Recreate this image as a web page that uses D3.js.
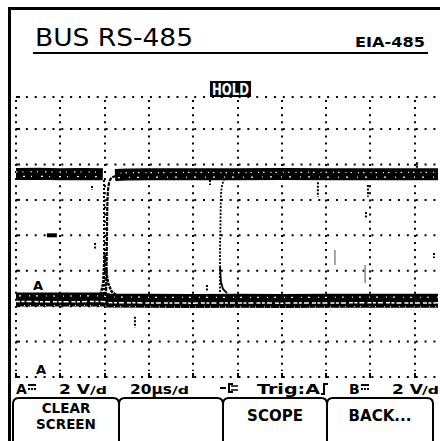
<!DOCTYPE html>
<html><head><meta charset="utf-8">
<script src="https://cdn.jsdelivr.net/npm/d3@7"></script>
<style>html,body{margin:0;padding:0;background:#fff;}svg{display:block}</style>
</head><body><svg id="c" width="440" height="441"></svg>
<script>
// ---------------- data ----------------
const timeGrid = [0, 20, 40, 60, 80, 100, 120, 140, 160, 180];   // µs (20 µs/div)
const voltGrid = [-8, -6, -4, -2, 0, 2, 4, 6];                   // V (2 V/div)

// upper trace (steady high level) before and after the edge
const upperLeftT  = [0, 10, 20, 30, 39.2];
const upperLeftV  = [3.46, 3.47, 3.45, 3.46, 3.44];
const upperRightT = [44.7, 50, 60, 80, 100, 120, 140, 160, 180, 200];
const upperRightV = [3.40, 3.43, 3.44, 3.45, 3.44, 3.46, 3.45, 3.44, 3.45, 3.45];

// lower trace (steady low level)
const lowerT = [0, 20, 39, 42, 60, 80, 100, 120, 140, 160, 180, 200];
const lowerV = [-3.62, -3.63, -3.62, -3.68, -3.70, -3.71, -3.70, -3.71, -3.70, -3.69, -3.70, -3.69];

// first edge (persistence) ~40 µs
const edge1FallT = [39.73, 39.73];
const edge1FallV = [3.12, -3.26];
const edge1RiseT = [40.63, 40.86, 41.08, 41.31, 41.76, 42.44, 43.79, 46.05];
const edge1RiseV = [-3.43, -1.96, 0.30, 1.99, 2.78, 3.12, 3.29, 3.40];
const edge1SettleT = [38.2, 39.4, 40.0, 40.6, 41.6, 43.0, 45.0];
const edge1SettleV = [-3.35, -2.7, -1.0, -1.9, -2.7, -3.15, -3.35];

// second edge ~92 µs
const edge2RiseT = [92.11, 92.11, 92.33, 92.55, 93.23, 94.36, 96.16];
const edge2RiseV = [-3.20, -1.40, 0.86, 2.28, 2.90, 3.24, 3.35];
const edge2FallT = [92.11, 92.55, 93.45, 95.26];
const edge2FallV = [-1.79, -2.64, -3.03, -3.26];

// isolated glitches (short vertical spots)
const glitchT  = [34.3, 35.7, 53.7, 86.2, 87.6, 136.3, 158.9, 158.0, 181.0, 188.7];
const glitchV1 = [2.78, -0.43, -4.60, -2.81, 3.12, 2.99, 2.84, 1.32, 4.13, -1.00];
const glitchV2 = [2.56, -0.83, -5.20, -3.20, 2.84, 2.17, 2.17, 0.98, 3.80, -1.28];
const greyT  = [144.0, 157.6];
const greyV1 = [-0.83, -1.68];
const greyV2 = [-1.68, -2.69];

const markerB = {t: 16.2, v: 0};

const statusTexts = ["2 V", "20µs", "Trig:A", "2 V"];
const softKeys = [["CLEAR", "SCREEN"], [], ["SCOPE"], ["BACK..."]];

// ---------------- drawing ----------------
const svg = d3.select("#c");
const x = d3.scaleLinear().domain([0, 200]).range([16, 16 + 10 * 44.3]);
const y = d3.scaleLinear().domain([-8, 8]).range([377, 93.6]);
const plotTop = 97, plotRight = 438;
const FONT = "'DejaVu Sans', 'Liberation Sans', sans-serif";
const FONTC = "'DejaVu Sans Condensed', 'Liberation Sans Narrow', 'DejaVu Sans', sans-serif";

svg.append("rect").attr("width", 440).attr("height", 441).attr("fill", "#fff");

// outer frame (left + top)
svg.append("path").attr("d", "M9.5,441 V8.5 H440").attr("fill", "none")
  .attr("stroke", "#000").attr("stroke-width", 3);

// title
svg.append("text").attr("x", 35).attr("y", 46).attr("font-family", FONTC)
  .attr("font-size", 25).attr("textLength", 158).attr("lengthAdjust", "spacingAndGlyphs")
  .text("BUS RS-485");
svg.append("text").attr("x", 355).attr("y", 47).attr("font-family", FONT)
  .attr("font-weight", "bold").attr("font-size", 14.5).attr("textLength", 70)
  .attr("lengthAdjust", "spacingAndGlyphs").text("EIA-485");
svg.append("line").attr("x1", 33).attr("x2", 428).attr("y1", 53).attr("y2", 53)
  .attr("stroke", "#000").attr("stroke-width", 2);

// grid
const g = svg.append("g");
const gridBottom = y(-8);
const hLines = voltGrid.map(v => Math.max(y(v), plotTop)).concat([plotTop]);
hLines.forEach(yy => {
  g.append("line").attr("x1", 21).attr("x2", plotRight).attr("y1", yy).attr("y2", yy)
    .attr("stroke", "#000").attr("stroke-width", 2).attr("stroke-dasharray", "2,6.86")
    .attr("stroke-dashoffset", -4.86);
  g.append("line").attr("x1", 16).attr("x2", 20).attr("y1", yy).attr("y2", yy)
    .attr("stroke", "#000").attr("stroke-width", 2);
});
timeGrid.forEach(t => {
  const xx = Math.round(x(t));
  g.append("line").attr("x1", xx).attr("x2", xx).attr("y1", plotTop + 3).attr("y2", gridBottom - 6)
    .attr("stroke", "#000").attr("stroke-width", 2).attr("stroke-dasharray", "2,5.1");
  g.append("line").attr("x1", xx).attr("x2", xx).attr("y1", gridBottom - 4).attr("y2", gridBottom + 1)
    .attr("stroke", "#000").attr("stroke-width", 2);
});

// traces
svg.append("clipPath").attr("id", "plot").append("rect")
  .attr("x", 16).attr("y", plotTop - 2).attr("width", plotRight - 16).attr("height", gridBottom - plotTop + 4);
const tr = svg.append("g").attr("clip-path", "url(#plot)");
const line = d3.line().x(d => x(d[0])).y(d => y(d[1]));
const curve = d3.line().x(d => x(d[0])).y(d => y(d[1])).curve(d3.curveMonotoneY);
const zip = (a, b) => a.map((v, i) => [v, b[i]]);

function band(T, V, w) {
  tr.append("path").attr("d", line(zip(T, V))).attr("fill", "none")
    .attr("stroke", "#000").attr("stroke-width", w).attr("stroke-linecap", "butt");
}
band(upperLeftT, upperLeftV, 12);
band(upperRightT, upperRightV, 12);
band(lowerT, lowerV, 14);

function speck(T, V, dv, dash, off, w) {
  tr.append("path").attr("d", line(zip(T, V.map(v => v + dv)))).attr("fill", "none")
    .attr("stroke", "#fff").attr("stroke-width", w).attr("stroke-dasharray", dash)
    .attr("stroke-dashoffset", off);
}
speck(upperLeftT, upperLeftV, 0.12, "1.5,5,1,7", 0, 1.2);
speck(upperLeftT, upperLeftV, -0.14, "1,9,2,6", 3, 1.2);
speck(upperRightT, upperRightV, 0.1, "1.5,6,1,4", 2, 1.2);
speck(upperRightT, upperRightV, -0.16, "1,7,2,9", 5, 1.2);
speck(lowerT, lowerV, -0.12, "4,1.5,3,2,5,3", 0, 1.5);
speck(lowerT, lowerV, 0.2, "1,6,2,8", 4, 1.2);
speck(lowerT, lowerV, -0.34, "1,8,1,5", 1, 1);

// edges
tr.append("path").attr("d", line(zip(edge1FallT, edge1FallV))).attr("fill", "none")
  .attr("stroke", "#000").attr("stroke-width", 2).attr("stroke-dasharray", "2,2");
tr.append("path").attr("d", curve(zip(edge1RiseT, edge1RiseV))).attr("fill", "none")
  .attr("stroke", "#000").attr("stroke-width", 2.2).attr("stroke-dasharray", "4,1");
tr.append("path").attr("d", line(zip(edge1SettleT, edge1SettleV))).attr("fill", "none")
  .attr("stroke", "#000").attr("stroke-width", 2.5).attr("stroke-dasharray", "3,1");
tr.append("path").attr("d", curve(zip(edge2RiseT, edge2RiseV))).attr("fill", "none")
  .attr("stroke", "#000").attr("stroke-width", 1.8).attr("stroke-dasharray", "2,1.5");
tr.append("path").attr("d", line(zip(edge2FallT, edge2FallV))).attr("fill", "none")
  .attr("stroke", "#000").attr("stroke-width", 1.8);

glitchT.forEach((t, i) => {
  tr.append("line").attr("x1", x(t)).attr("x2", x(t)).attr("y1", y(glitchV1[i])).attr("y2", y(glitchV2[i]))
    .attr("stroke", "#000").attr("stroke-width", 2).attr("stroke-dasharray", "2,1.5");
});
greyT.forEach((t, i) => {
  tr.append("line").attr("x1", x(t)).attr("x2", x(t)).attr("y1", y(greyV1[i])).attr("y2", y(greyV2[i]))
    .attr("stroke", "#888").attr("stroke-width", 1.5);
});

// channel markers
svg.append("rect").attr("x", x(markerB.t) - 5).attr("y", y(markerB.v) - 2).attr("width", 10).attr("height", 4)
  .attr("fill", "#000");
svg.append("text").attr("x", 33).attr("y", 290).attr("font-family", FONT).attr("font-weight", "bold")
  .attr("font-size", 13).text("A");
svg.append("text").attr("x", 36).attr("y", 374).attr("font-family", FONT).attr("font-weight", "bold")
  .attr("font-size", 13).text("A");

// HOLD tag
svg.append("rect").attr("x", 210).attr("y", 81).attr("width", 41).attr("height", 16).attr("fill", "#000");
svg.append("text").attr("x", 212).attr("y", 95).attr("font-family", FONT).attr("font-weight", "bold")
  .attr("font-size", 15).attr("fill", "#fff").attr("textLength", 37).attr("lengthAdjust", "spacingAndGlyphs")
  .text("HOLD");

// status line
const st = svg.append("g").attr("font-family", FONT).attr("font-weight", "bold").attr("font-size", 14);
const base = 394;
function dcSym(x0) {
  st.append("line").attr("x1", x0).attr("x2", x0 + 8).attr("y1", base - 9).attr("y2", base - 9)
    .attr("stroke", "#000").attr("stroke-width", 2);
  st.append("line").attr("x1", x0).attr("x2", x0 + 8).attr("y1", base - 5).attr("y2", base - 5)
    .attr("stroke", "#000").attr("stroke-width", 2).attr("stroke-dasharray", "2,1");
}
function perDiv(x0) {
  st.append("text").attr("x", x0).attr("y", base).attr("font-size", 11).attr("textLength", 17)
    .attr("lengthAdjust", "spacingAndGlyphs").text("/d");
}
st.append("text").attr("x", 16).attr("y", base).text("A");
dcSym(28);
st.append("text").attr("x", 59).attr("y", base).attr("textLength", 31).attr("lengthAdjust", "spacingAndGlyphs").text(statusTexts[0]);
perDiv(90);
st.append("text").attr("x", 130).attr("y", base).attr("textLength", 42).attr("lengthAdjust", "spacingAndGlyphs").text(statusTexts[1]);
perDiv(172);
st.append("line").attr("x1", 220).attr("x2", 226).attr("y1", base - 6).attr("y2", base - 6).attr("stroke", "#000").attr("stroke-width", 2);
st.append("path").attr("d", `M233,${base - 10} H229 V${base - 2} H233`).attr("fill", "none").attr("stroke", "#000").attr("stroke-width", 2);
st.append("line").attr("x1", 231).attr("x2", 238).attr("y1", base - 8).attr("y2", base - 8).attr("stroke", "#000").attr("stroke-width", 1.5);
st.append("line").attr("x1", 231).attr("x2", 238).attr("y1", base - 4).attr("y2", base - 4).attr("stroke", "#000").attr("stroke-width", 1.5);
st.append("text").attr("x", 257).attr("y", base).attr("textLength", 63).attr("lengthAdjust", "spacingAndGlyphs").text(statusTexts[2]);
st.append("path").attr("d", `M321,${base} H324 V${base - 10} H328`).attr("fill", "none").attr("stroke", "#000").attr("stroke-width", 2);
st.append("text").attr("x", 349).attr("y", base).text("B");
dcSym(361);
st.append("text").attr("x", 392).attr("y", base).attr("textLength", 31).attr("lengthAdjust", "spacingAndGlyphs").text(statusTexts[3]);
perDiv(422);

// soft keys
const keyEdges = [13, 119, 223, 327, 433];
const keyTop = 398, keyR = 6;
const sk = svg.append("g");
for (let i = 0; i < 4; i++) {
  const a = keyEdges[i], b = keyEdges[i + 1];
  sk.append("path").attr("d", `M${a},441 V${keyTop + keyR} Q${a},${keyTop} ${a + keyR},${keyTop} H${b - keyR} Q${b},${keyTop} ${b},${keyTop + keyR} V441`)
    .attr("fill", "none").attr("stroke", "#000").attr("stroke-width", 2);
  const labels = softKeys[i];
  if (!labels.length) continue;
  const cx = (a + b) / 2;
  const two = labels.length === 2;
  labels.forEach((lab, j) => {
    sk.append("text").attr("text-anchor", "middle").attr("font-family", FONT)
      .attr("font-weight", "bold").attr("font-size", two ? 13.5 : 15)
      .attr("x", cx).attr("y", two ? 412.5 + j * 16 : 421).text(lab);
  });
}
</script></body></html>
